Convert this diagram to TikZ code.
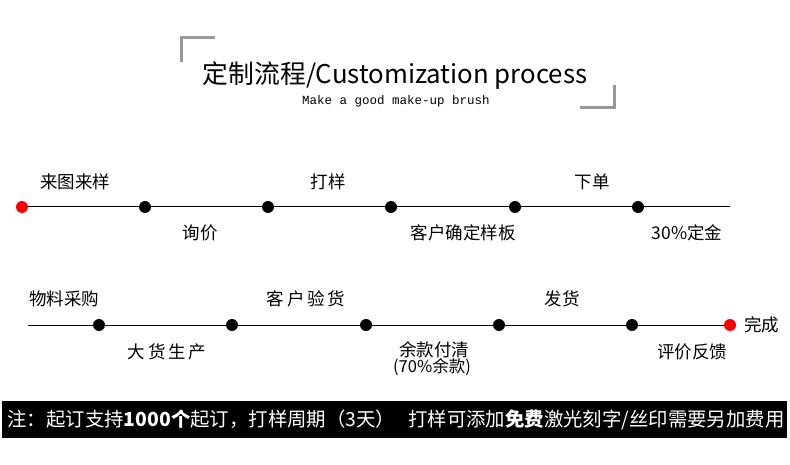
\documentclass[tikz,border=0pt]{standalone}
\usepackage{fontspec}
\setmainfont{Noto Sans CJK SC}
\newfontfamily\subfont{Liberation Mono}
\begin{document}
\begin{tikzpicture}[x=1pt,y=-1pt,
  dotb/.style={circle,fill=black,inner sep=0pt,minimum size=12pt},
  dotr/.style={circle,fill=red,inner sep=0pt,minimum size=12pt},
  lbl/.style={inner sep=0pt,font=\fontsize{17.5}{19}\selectfont},
  brk/.style={draw=gray!80,line width=3pt},
  tl/.style={line width=1pt}]
\useasboundingbox (0,0) rectangle (790,465);
% title brackets
\coordinate (b1a) at (215,38); \coordinate (b1b) at (181,38); \coordinate (b1c) at (181,62);
\draw[brk] (b1a) -- (b1b) -- (b1c);
\coordinate (b2a) at (614,85); \coordinate (b2b) at (614,108); \coordinate (b2c) at (580,108);
\draw[brk] (b2a) -- (b2b) -- (b2c);
\node[inner sep=0pt,font=\fontsize{25.8}{28}\selectfont] (title) at (395,76) {定制流程/Customization process};
\node[inner sep=0pt,font=\subfont\fontsize{12.5}{14}\selectfont] (sub) at (396,101) {Make a good make-up brush};
% row 1
\node[dotr] (a0) at (22,207) {};
\node[dotb] (a1) at (145,207) {};
\node[dotb] (a2) at (268,207) {};
\node[dotb] (a3) at (391,207) {};
\node[dotb] (a4) at (515,207) {};
\node[dotb] (a5) at (638,207) {};
\coordinate (aend) at (730,207);
\draw[tl] (a0) -- (a1) -- (a2) -- (a3) -- (a4) -- (a5) -- (aend);
\node[lbl] (l1) at (75,182) {来图来样};
\node[lbl] (l2) at (200,233) {询价};
\node[lbl] (l3) at (328,182) {打样};
\node[lbl] (l4) at (463,233) {客户确定样板};
\node[lbl] (l5) at (592,182) {下单};
\node[lbl] (l6) at (687,233) {30\%定金};
% row 2
\coordinate (bstart) at (28,325);
\node[dotb] (b1) at (99,325) {};
\node[dotb] (b2) at (232,325) {};
\node[dotb] (b3) at (366,325) {};
\node[dotb] (b4) at (499,325) {};
\node[dotb] (b5) at (632,325) {};
\node[dotr] (b6) at (730,325) {};
\draw[tl] (bstart) -- (b1) -- (b2) -- (b3) -- (b4) -- (b5) -- (b6);
\node[lbl] (m1) at (64,299) {物料采购};
\node[lbl] (m2) at (167,352) {大\,货\,生\,产};
\node[lbl] (m3) at (306,299) {客\,户\,验\,货};
\node[lbl] (m4) at (434,350) {余款付清};
\node[inner sep=0pt,font=\fontsize{16.5}{18}\selectfont] (m4b) at (432,367) {(70\%余款)};
\node[lbl] (m5) at (562,299) {发货};
\node[lbl] (m6) at (692,352) {评价反馈};
\node[lbl,anchor=west] (m7) at (744,325) {完成};
% bottom bar
\node[fill=black,minimum width=785pt,minimum height=37pt,inner sep=0pt] (bar) at (394.5,419.5) {};
\node[text=white,inner sep=0pt,font=\fontsize{19.4}{21}\selectfont] (note) at (396,420) {注：起订支持\textbf{1000个}起订，打样周期（3天）\hspace{13pt}打样可添加\textbf{免费}激光刻字/丝印需要另加费用};
\end{tikzpicture}
\end{document}
